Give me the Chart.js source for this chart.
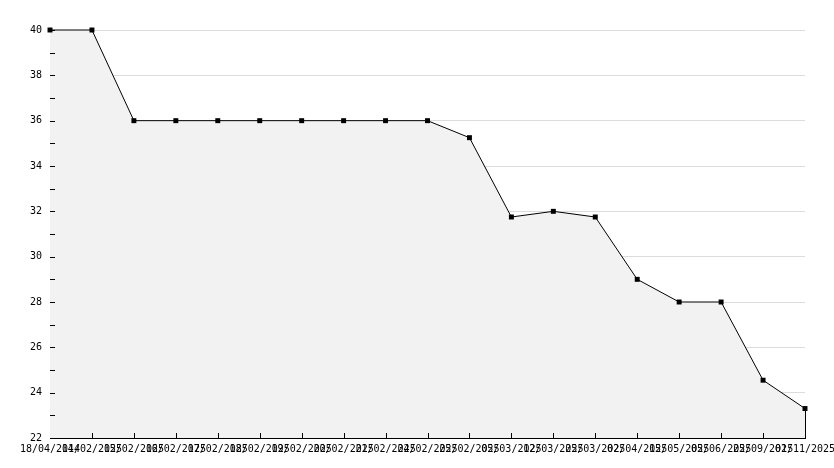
<!DOCTYPE html>
<html>
<head>
<meta charset="utf-8">
<script src="https://cdn.jsdelivr.net/npm/chart.js@4/dist/chart.umd.min.js"></script>
<style>
    html, body { margin: 0; padding: 0; background: #fff; }
    canvas { display: block; }
</style>
</head>
<body>
<canvas id="chart" width="834" height="468"></canvas>
<script>
"use strict";

// dates along the bottom (overlapping in the original, best guess)
const aLabels = [
    "18/04/2014", "14/02/2025", "15/02/2025", "16/02/2025", "17/02/2025",
    "18/02/2025", "19/02/2025", "20/02/2025", "21/02/2025", "24/02/2025",
    "25/02/2025", "05/03/2025", "12/03/2025", "25/03/2025", "02/04/2025",
    "15/05/2025", "05/06/2025", "25/09/2025", "01/11/2025"
];

const aValues = [
    40, 40, 36, 36, 36, 36, 36, 36, 36, 36,
    35.25, 31.75, 32, 31.75, 29, 28, 28, 24.55, 23.3
];

const fYMin = 22;
const fYMax = 40;

const sFont = "'DejaVu Sans Mono', monospace";

// inward tick marks + closing edge of the filled area
const oAxisTicks = {
    id: "axisTicks",
    afterDatasetsDraw: function(oChart) {
        const oCtx = oChart.ctx;
        const oArea = oChart.chartArea;
        const oX = oChart.scales.x;
        const oY = oChart.scales.y;

        oCtx.save();
        oCtx.strokeStyle = "#000";
        oCtx.lineWidth = 1;
        oCtx.beginPath();

        for (let v = fYMin + 1; v <= fYMax; v++) {
            const py = Math.round(oY.getPixelForValue(v)) + 0.5;
            oCtx.moveTo(oArea.left, py);
            oCtx.lineTo(oArea.left + 5, py);
        }

        for (let i = 1; i < aLabels.length; i++) {
            const px = Math.round(oX.getPixelForValue(i)) + 0.5;
            oCtx.moveTo(px, oArea.bottom);
            oCtx.lineTo(px, oArea.bottom - 5);
        }

        const aPoints = oChart.getDatasetMeta(0).data;
        const oLast = aPoints[aPoints.length - 1];
        const lx = Math.round(oLast.x) + 0.5;
        oCtx.moveTo(lx, oLast.y);
        oCtx.lineTo(lx, oArea.bottom);

        oCtx.stroke();
        oCtx.restore();
    }
};

const oCanvasContext = document.getElementById("chart").getContext("2d");

new Chart(oCanvasContext, {
    type: "line",
    data: {
        labels: aLabels,
        datasets: [{
            data: aValues,
            borderColor: "#000",
            borderWidth: 1,
            backgroundColor: "#f2f2f2",
            fill: "start",
            tension: 0,
            clip: false,
            pointStyle: "rect",
            pointRadius: 3.5,
            pointBackgroundColor: "#000",
            pointBorderColor: "#000",
            pointBorderWidth: 0
        }]
    },
    options: {
        responsive: false,
        animation: false,
        devicePixelRatio: 1,
        layout: {
            padding: { top: 30, right: 29, bottom: 0, left: 0 }
        },
        plugins: {
            legend: { display: false },
            tooltip: { enabled: false }
        },
        scales: {
            x: {
                type: "category",
                offset: false,
                grid: {
                    color: "transparent",
                    drawTicks: false
                },
                border: { display: true, color: "#000", width: 1 },
                ticks: {
                    autoSkip: false,
                    maxRotation: 0,
                    minRotation: 0,
                    padding: 5,
                    color: "#000",
                    font: { family: sFont, size: 10 }
                },
                afterFit: function(oScale) {
                    oScale.height = 30;
                    oScale.paddingLeft = 0;
                    oScale.paddingRight = 0;
                }
            },
            y: {
                min: fYMin,
                max: fYMax,
                grid: {
                    drawTicks: false,
                    color: function(c) {
                        const v = c.tick ? c.tick.value : 0;
                        return (v % 2 === 0 && v > fYMin) ? "#dcdcdc" : "transparent";
                    }
                },
                border: { display: true, color: "#000", width: 1 },
                ticks: {
                    stepSize: 1,
                    padding: 8,
                    color: "#000",
                    font: { family: sFont, size: 10 },
                    callback: function(v) {
                        return v % 2 === 0 ? v : "";
                    }
                },
                afterFit: function(oScale) {
                    oScale.width = 50;
                    oScale.paddingTop = 0;
                    oScale.paddingBottom = 0;
                }
            }
        }
    },
    plugins: [oAxisTicks]
});
</script>
</body>
</html>
